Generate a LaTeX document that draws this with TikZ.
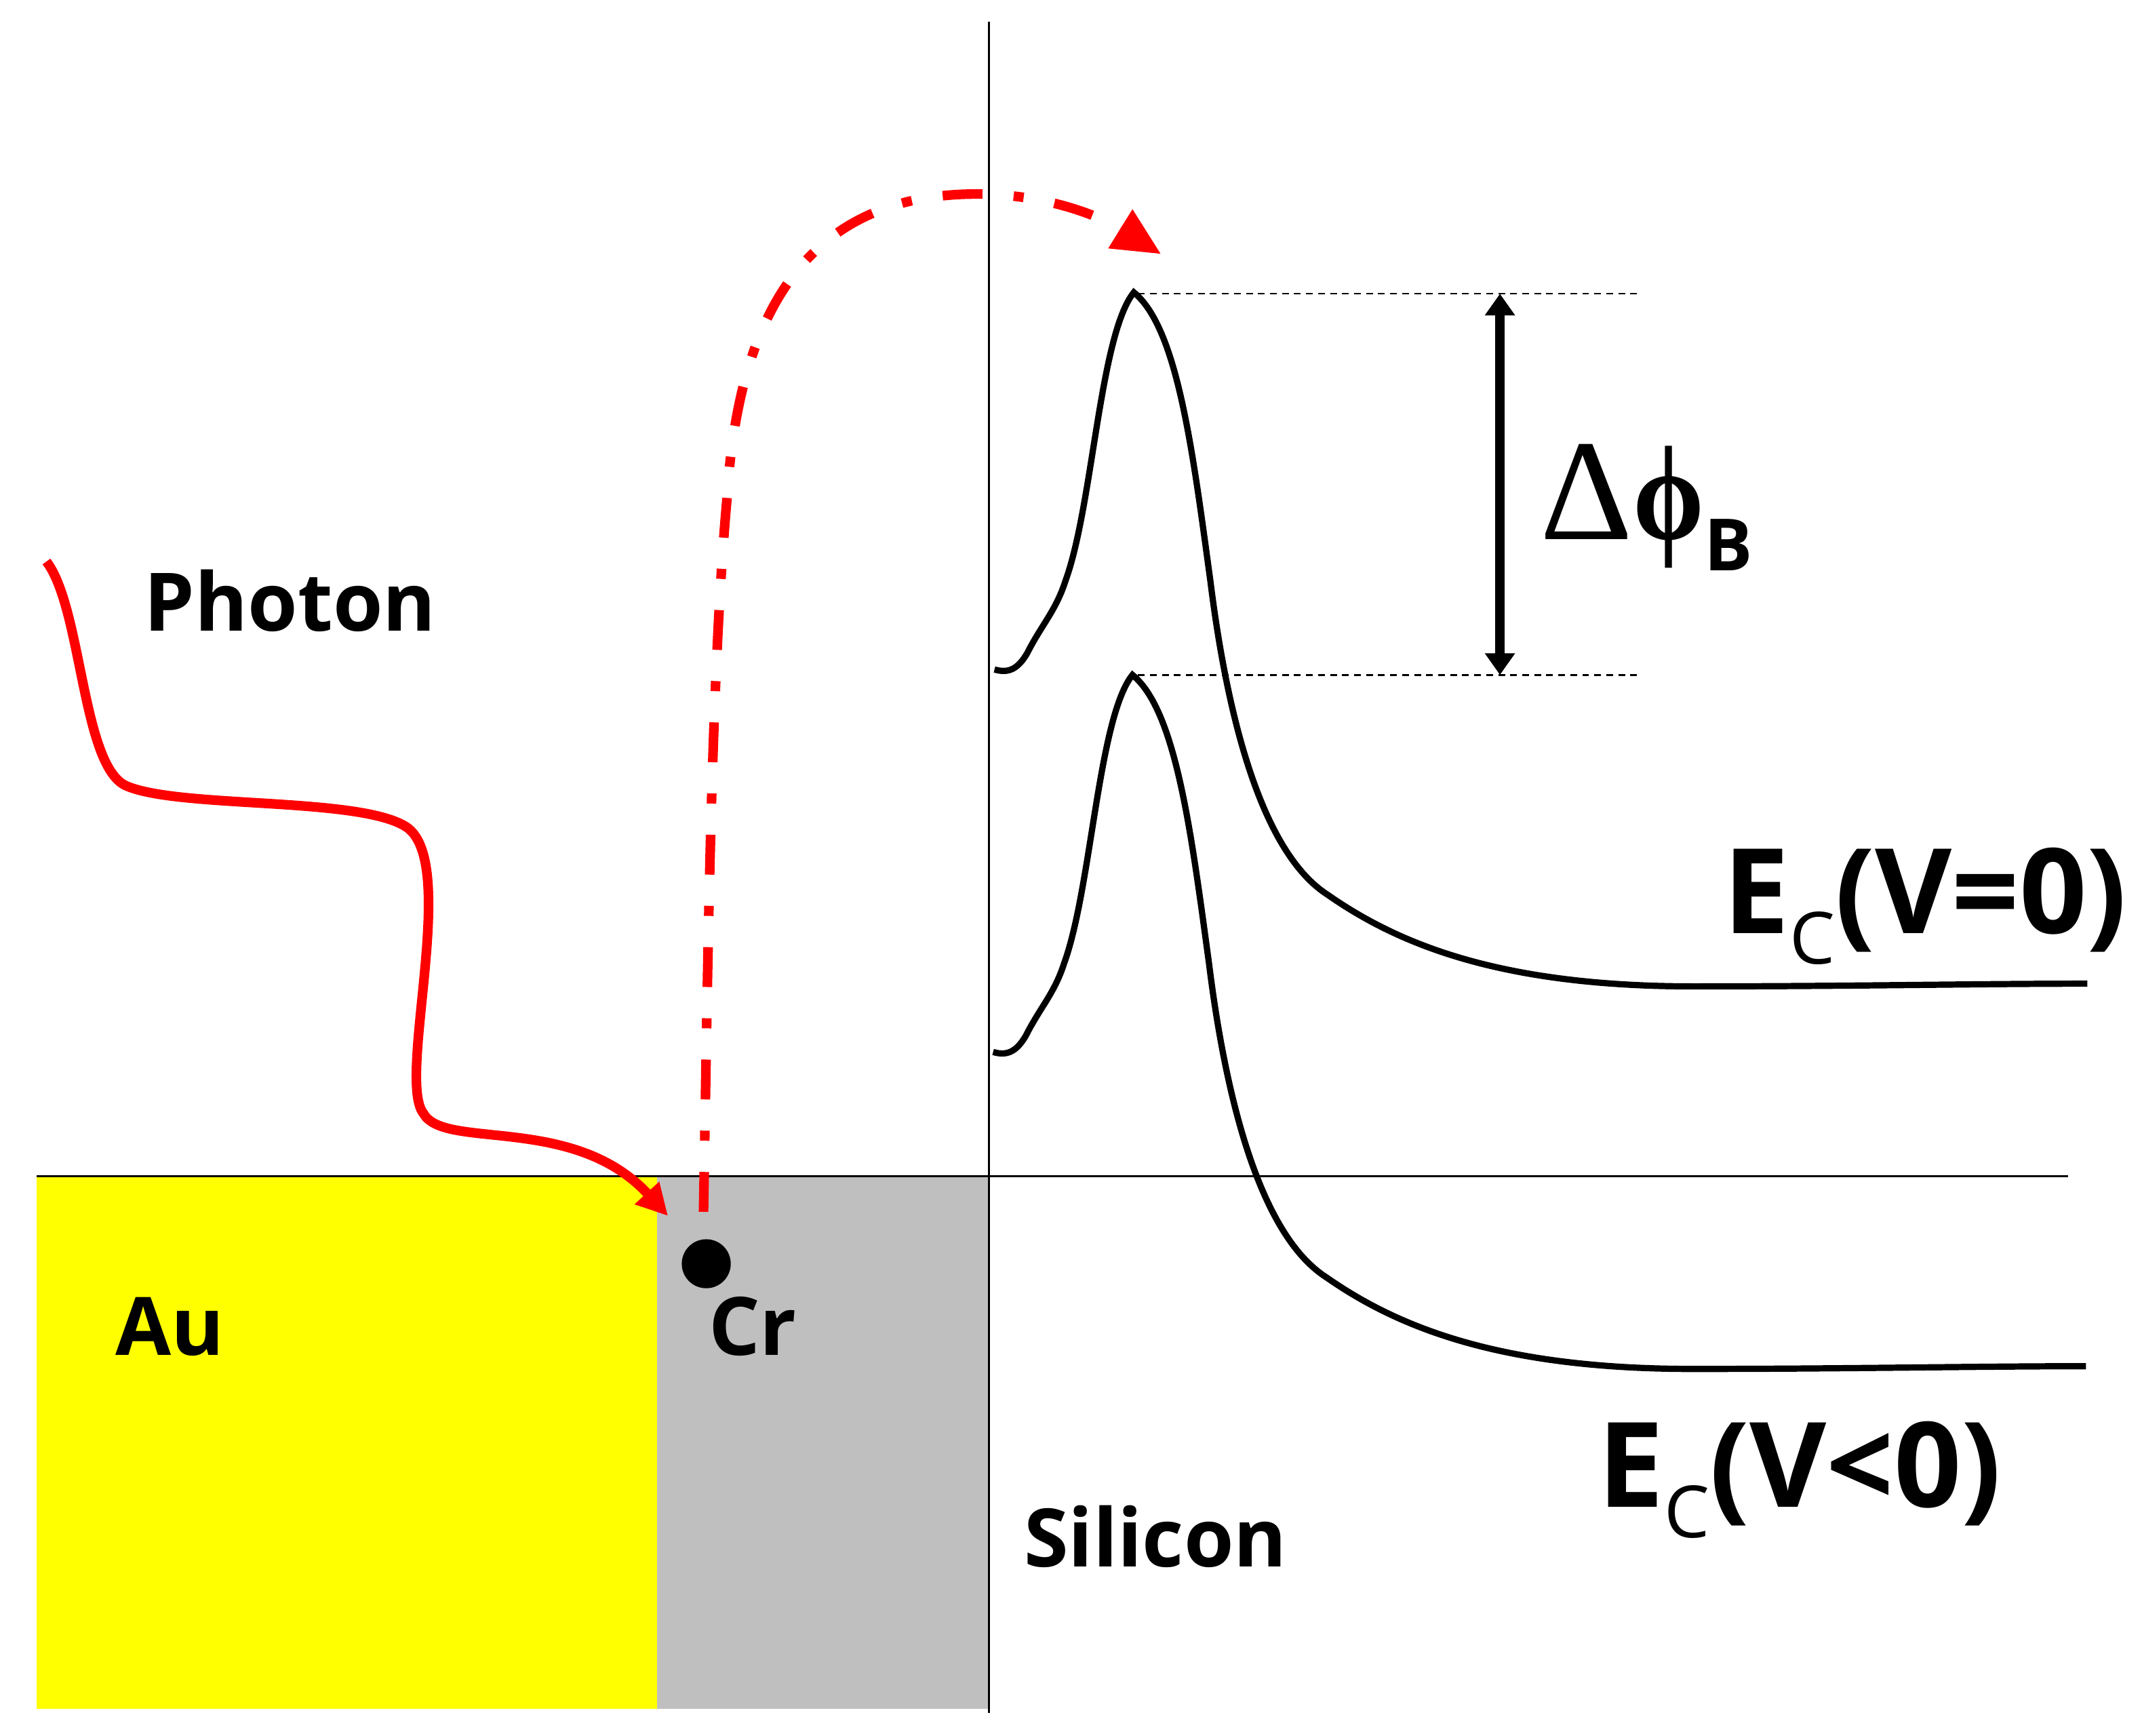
\documentclass[tikz,border=0pt]{standalone}
\usepackage{fontspec}
\setmainfont{Open Sans}
\newfontfamily\symfont{Liberation Serif}
\usetikzlibrary{arrows.meta}
\definecolor{crgray}{HTML}{BFBFBF}
\definecolor{auyellow}{HTML}{FFFF00}
\tikzset{
  lbl/.style={anchor=base west,inner sep=0pt,font=\bfseries\fontsize{16.8}{18}\selectfont},
  biglbl/.style={anchor=base west,inner sep=0pt,font=\bfseries\fontsize{24.6}{26}\selectfont},
  axis/.style={line width=0.4pt},
  level/.style={line width=0.35pt,dash pattern=on 1.4pt off 1.1pt},
  band/.style={line width=1.3pt},
}
\newcommand{\sbs}[1]{\raisebox{-6.4pt}{\fontsize{15}{16}\selectfont #1}}
\newcommand{\ecurve}{(728,490) .. controls (738,493) and (745,490) .. (752,478)
  .. controls (762,458) and (773,447) .. (780,425)
  .. controls (800,370) and (805,245) .. (830,214)
  .. controls (862,240) and (873,330) .. (886,425)
  .. controls (899,530) and (925,625) .. (972,655)
  .. controls (1025,692) and (1100,722) .. (1240,722)
  .. controls (1350,722) and (1450,720) .. (1528,720)}
\begin{document}
\begin{tikzpicture}[x=0.01cm,y=-0.01cm,>=latex]
   \useasboundingbox (0,0) rectangle (1568,1270.2);

   \fill[auyellow] (27,861) rectangle (481,1251);
   \fill[crgray] (481,861) rectangle (724,1251);

   \coordinate (axT) at (724,16);
   \coordinate (axB) at (724,1254);
   \coordinate (axL) at (27,861);
   \coordinate (axR) at (1514,861);
   \draw[axis] (axT) -- (axB);
   \draw[axis] (axL) -- (axR);

   \draw[band] \ecurve;
   \draw[band,shift={(-1,280)}] \ecurve;

   \coordinate (top0) at (833,215);
   \coordinate (top1) at (1198,215);
   \coordinate (bot0) at (833,494);
   \coordinate (bot1) at (1198,494);
   \coordinate (gapT) at (1098,215);
   \coordinate (gapB) at (1098,494);
   \draw[level] (top0) -- (top1);
   \draw[level] (bot0) -- (bot1);
   \draw[{Triangle[length=4.5pt,width=6pt]}-{Triangle[length=4.5pt,width=6pt]},line width=2pt] (gapT) -- (gapB);

   \node[circle,fill=black,minimum size=10.2pt,inner sep=0pt] (trap) at (517,925) {};

   \coordinate (phStart) at (34,411);
   \coordinate (phEnd) at (489,890);
   \draw[red,line width=2pt,-{Triangle[length=6.5pt,width=6.5pt]}] (phStart)
     .. controls (60,445) and (60,560) .. (92,575)
     .. controls (130,592) and (262,583) .. (297,605)
     .. controls (337,630) and (290,790) .. (310,815)
     .. controls (325,842) and (420,815) .. (phEnd);

   \coordinate (hopStart) at (515,887);
   \coordinate (hopEnd) at (850,186);
   \draw[red,line width=2pt,dash pattern=on 8.3pt off 6.5pt on 2.1pt off 6.5pt,-{Triangle[length=10pt,width=9pt]}] (hopStart)
     .. controls (518,720) and (520,500) .. (532,367)
     .. controls (540,230) and (590,142) .. (715,142)
     .. controls (760,142) and (800,155) .. (hopEnd);

   \node[lbl] (photon) at (105,462) {Photon};
   \node[lbl] (au) at (84,992) {Au};
   \node[lbl] (cr) at (518,992) {Cr};
   \node[lbl] (si) at (749,1147) {Silicon};
   \node[biglbl] (ec0) at (1261,683) {E\sbs{\mdseries C}(V=0)};
   \node[biglbl] (ec1) at (1169,1103) {E\sbs{\mdseries C}(V<0)};
   \node[biglbl] (dphi) at (1127,395) {{\symfont\mdseries\fontsize{30}{32}\selectfont Δ}{\symfont\bfseries\fontsize{28}{30}\selectfont \scalebox{0.85}[1]{ϕ}}\sbs{B}};
\end{tikzpicture}
\end{document}
